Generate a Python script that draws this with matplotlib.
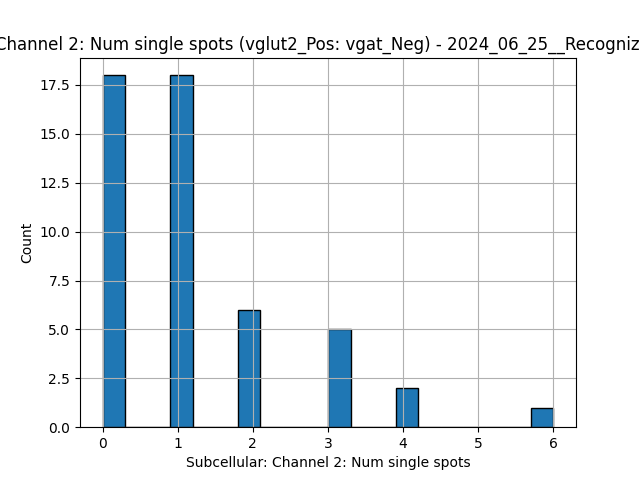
import matplotlib
matplotlib.use('Agg')
import matplotlib.pyplot as plt
import numpy as np

# number of single spots per cell (value, count)
spot_values = [0, 1, 2, 3, 4, 6]
spot_counts = [18, 18, 6, 5, 2, 1]

data = np.repeat(spot_values, spot_counts)

fig, ax = plt.subplots(figsize=(6.4, 4.8), dpi=100)
ax.hist(data, bins=20, color='#1f77b4', edgecolor='black')
# grid drawn over the bars, like pandas' default hist
ax.set_axisbelow('line')
ax.grid(True)
ax.set_title("Channel 2: Num single spots (vglut2_Pos: vgat_Neg) - 2024_06_25__Recognized")
ax.set_xlabel("Subcellular: Channel 2: Num single spots")
ax.set_ylabel("Count")

fig.savefig('out.png')
plt.close(fig)
